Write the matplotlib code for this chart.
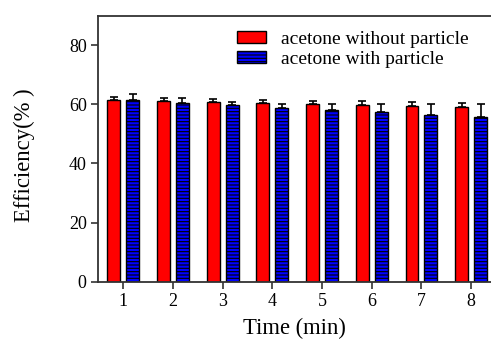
import matplotlib
matplotlib.use("Agg")
import matplotlib.pyplot as plt
import numpy as np

times = [1, 2, 3, 4, 5, 6, 7, 8]
without_particle = [61.5, 61.0, 60.8, 60.3, 60.1, 59.8, 59.5, 59.2]
without_err = [1.1, 1.3, 1.1, 1.3, 1.1, 1.2, 1.2, 1.2]
with_particle = [61.5, 60.6, 59.8, 58.9, 58.1, 57.3, 56.5, 55.6]
with_err = [2.1, 1.5, 1.1, 1.3, 2.0, 2.8, 3.6, 4.5]
yticks = [0, 20, 40, 60, 80]
labels = ["acetone without particle", "acetone with particle"]

plt.rcParams['font.family'] = ['Liberation Serif', 'DejaVu Serif']
plt.rcParams['hatch.linewidth'] = 0.8

fig = plt.figure(figsize=(4.91, 3.40), dpi=100)
ax = fig.add_axes([0.2006, 0.1715, 0.7994, 0.7823])

x = np.array(times, dtype=float)
w = 0.26
off = 0.19
zeros = [0] * len(times)
ax.bar(x - off, without_particle, width=w, color='#ff0000', edgecolor='black',
       linewidth=1.0, label=labels[0],
       yerr=[zeros, without_err], capsize=3,
       error_kw=dict(ecolor='black', elinewidth=1.2, capthick=1.2))
ax.bar(x + off, with_particle, width=w, color='#0000ff', edgecolor='black',
       linewidth=1.0, hatch='-----', label=labels[1],
       yerr=[zeros, with_err], capsize=3,
       error_kw=dict(ecolor='black', elinewidth=1.2, capthick=1.2))

ax.set_xlim(0.5, 8.4)
ax.set_ylim(0, 90)
ax.set_xticks(times)
ax.set_yticks(yticks)
ax.tick_params(axis='both', labelsize=13, direction='out', length=5, width=1.2, color='#333333')
ax.tick_params(axis='x', pad=3)
for s in ['left', 'top', 'bottom']:
    ax.spines[s].set_linewidth(1.3)
    ax.spines[s].set_color('#333333')
ax.spines['right'].set_visible(False)

ax.set_xlabel('Time (min)', fontsize=16.3, labelpad=6)
ax.set_ylabel('Efficiency(% )', fontsize=16.3)
ax.yaxis.set_label_coords(-0.162, 0.477)

leg = ax.legend(loc='upper left', bbox_to_anchor=(0.309, 1.008), frameon=False,
                fontsize=14, handlelength=1.5, handleheight=0.6,
                handletextpad=0.75, labelspacing=0.15)

fig.savefig('out.png', dpi=100)
